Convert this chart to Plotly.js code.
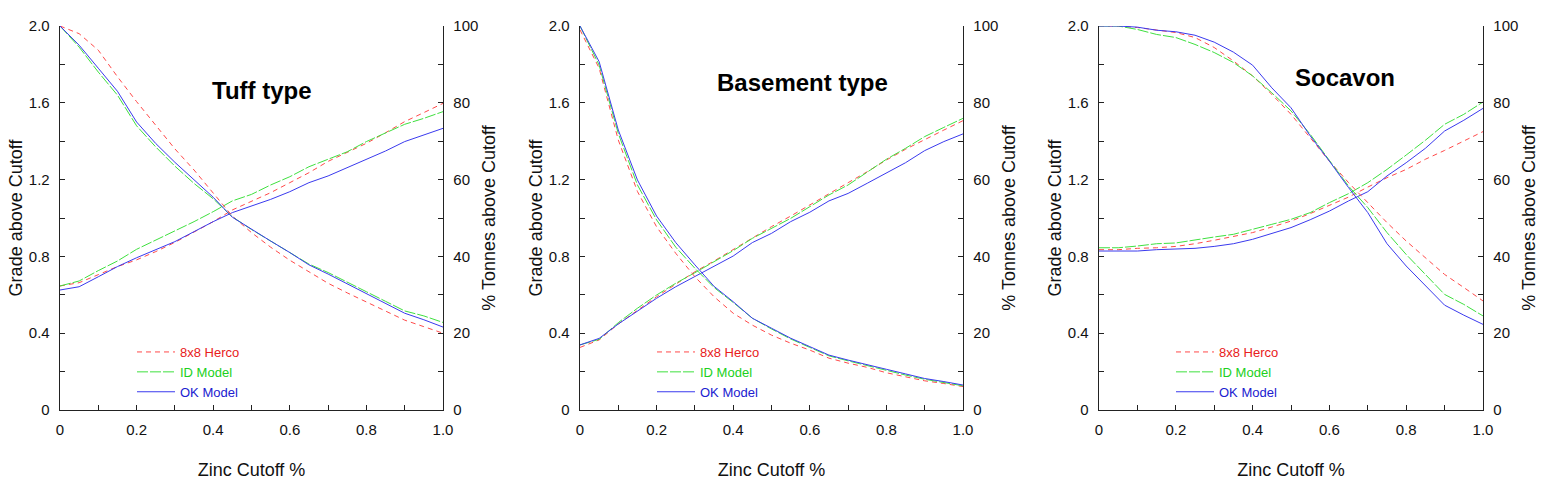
<!DOCTYPE html>
<html>
<head>
<meta charset="utf-8">
<script src="https://cdn.plot.ly/plotly-3.0.1.min.js"></script>
<style>html,body{margin:0;padding:0;background:#fff;}#chart{width:1555px;height:495px;}</style>
</head>
<body>
<div id="chart"></div>
<script>
// ---- data ----
const cutoff = [0, 0.05, 0.1, 0.15, 0.2, 0.25, 0.3, 0.35, 0.4, 0.45, 0.5, 0.55, 0.6, 0.65, 0.7, 0.75, 0.8, 0.85, 0.9, 0.95, 1.0];
const panelTitles = ["Tuff type", "Basement type", "Socavon"];
const modelNames = ["8x8 Herco", "ID Model", "OK Model"];

// Tuff type
const tuffGradeHerco = [0.646, 0.663, 0.705, 0.747, 0.782, 0.825, 0.873, 0.925, 0.981, 1.042, 1.085, 1.132, 1.184, 1.236, 1.295, 1.34, 1.389, 1.444, 1.502, 1.549, 1.597];
const tuffGradeID    = [0.646, 0.672, 0.726, 0.776, 0.837, 0.885, 0.929, 0.981, 1.033, 1.089, 1.123, 1.172, 1.215, 1.267, 1.306, 1.345, 1.398, 1.441, 1.488, 1.519, 1.554];
const tuffGradeOK    = [0.625, 0.642, 0.694, 0.747, 0.793, 0.837, 0.877, 0.929, 0.981, 1.028, 1.062, 1.097, 1.137, 1.184, 1.219, 1.262, 1.306, 1.349, 1.398, 1.432, 1.467];
const tuffTonHerco   = [100, 98, 93.7, 86.8, 80.3, 74, 68, 62.5, 56.5, 50.5, 46.2, 42.4, 39, 36, 33, 30.5, 28.2, 25.8, 23.4, 21.7, 20];
const tuffTonID      = [100, 94.5, 88, 82, 74, 68.5, 63.5, 59, 55, 50.3, 47, 44, 41, 38, 35.8, 33.2, 30.8, 28.3, 25.8, 24.5, 22.8];
const tuffTonOK      = [100, 95, 89, 83, 75, 69.4, 64.5, 59.9, 55.4, 50.2, 47, 44, 41, 37.8, 35.4, 32.8, 30.2, 27.7, 25.2, 23.5, 21.6];

// Basement type
const baseGradeHerco = [0.326, 0.365, 0.448, 0.521, 0.59, 0.655, 0.72, 0.776, 0.837, 0.898, 0.955, 1.01, 1.069, 1.128, 1.184, 1.241, 1.302, 1.358, 1.406, 1.458, 1.507];
const baseGradeID    = [0.339, 0.368, 0.455, 0.53, 0.599, 0.66, 0.715, 0.773, 0.83, 0.894, 0.946, 0.998, 1.059, 1.12, 1.172, 1.241, 1.306, 1.363, 1.424, 1.472, 1.519];
const baseGradeOK    = [0.339, 0.373, 0.448, 0.517, 0.582, 0.642, 0.694, 0.747, 0.802, 0.872, 0.92, 0.981, 1.03, 1.089, 1.128, 1.181, 1.233, 1.288, 1.351, 1.398, 1.438];
const baseTonHerco   = [99, 89, 70.3, 56.9, 47.7, 40.8, 34.7, 29.5, 25.2, 22.1, 19.5, 17.4, 15.6, 13.5, 12.2, 11.1, 9.7, 8.7, 7.6, 6.9, 6.1];
const baseTonID      = [100, 89.8, 72, 58.6, 49.5, 42.4, 36.9, 31.9, 28, 23.9, 21.1, 18.5, 16.3, 14.1, 12.8, 11.5, 10.2, 9.1, 8.0, 7.1, 6.3];
const baseTonOK      = [100, 90.7, 72.9, 59.9, 50.5, 43.6, 37.8, 32.2, 28.2, 23.9, 21.3, 18.7, 16.5, 14.3, 13.0, 11.7, 10.6, 9.4, 8.2, 7.4, 6.5];

// Socavon
const socGradeHerco  = [0.835, 0.835, 0.842, 0.845, 0.852, 0.866, 0.884, 0.905, 0.924, 0.953, 0.984, 1.023, 1.068, 1.109, 1.161, 1.21, 1.253, 1.306, 1.352, 1.401, 1.45];
const socGradeID     = [0.845, 0.845, 0.854, 0.866, 0.87, 0.887, 0.901, 0.915, 0.939, 0.967, 0.993, 1.028, 1.08, 1.127, 1.184, 1.253, 1.328, 1.405, 1.488, 1.54, 1.604];
const socGradeOK     = [0.828, 0.828, 0.828, 0.835, 0.837, 0.842, 0.852, 0.866, 0.889, 0.918, 0.95, 0.991, 1.036, 1.089, 1.137, 1.219, 1.288, 1.363, 1.453, 1.509, 1.571];
const socTonHerco    = [100, 100, 99.6, 98.9, 98.3, 97, 94.4, 90.9, 87, 82.2, 77, 70.9, 64.8, 59.2, 54, 48.8, 44, 39.7, 35.3, 31.9, 28.4];
const socTonID       = [100, 100, 99.1, 97.8, 97, 95.2, 93.1, 90.5, 87, 82.6, 77.9, 71.8, 65, 58.3, 52.7, 46.2, 40.5, 35.3, 30.1, 27.5, 24.5];
const socTonOK       = [100, 100, 99.7, 98.9, 98.5, 97.6, 95.8, 93.2, 89.8, 83.9, 78.7, 71.4, 64.8, 57.9, 51.4, 43.3, 37.5, 32.3, 27.3, 24.7, 22.3];

// tick labels
const xTickVals = [0, 0.1, 0.2, 0.3, 0.4, 0.5, 0.6, 0.7, 0.8, 0.9, 1.0];
const xTickText = ["0", "", "0.2", "", "0.4", "", "0.6", "", "0.8", "", "1.0"];
const gradeTickVals = [0, 0.2, 0.4, 0.6, 0.8, 1.0, 1.2, 1.4, 1.6, 1.8, 2.0];
const gradeTickText = ["0", "", "0.4", "", "0.8", "", "1.2", "", "1.6", "", "2.0"];
const tonTickVals = [0, 10, 20, 30, 40, 50, 60, 70, 80, 90, 100];
const tonTickText = ["0", "", "20", "", "40", "", "60", "", "80", "", "100"];

// ---- styling ----
const FONT = "Liberation Sans, Arial, Helvetica, sans-serif";
const lineColors = ["#ff4a4a", "#3fe03f", "#3a3aee"];
const textColors = ["#e82020", "#20d020", "#2020d0"];
const dashes = ["5px,4px", "11px,2px", "solid"];

const panels = [
  {grade: [tuffGradeHerco, tuffGradeID, tuffGradeOK], ton: [tuffTonHerco, tuffTonID, tuffTonOK]},
  {grade: [baseGradeHerco, baseGradeID, baseGradeOK], ton: [baseTonHerco, baseTonID, baseTonOK]},
  {grade: [socGradeHerco, socGradeID, socGradeOK], ton: [socTonHerco, socTonID, socTonOK]}
];

const W = 1555, H = 495;
const xPix = [[60, 443], [580, 963], [1099, 1483]];
const yDom = [(H - 410) / H, (H - 26) / H];
const titlePos = [[262, 91], [802, 83], [1345, 77]];

const traces = [];
const layout = {
  width: W, height: H,
  margin: {l: 0, r: 0, t: 0, b: 0},
  paper_bgcolor: "#fff", plot_bgcolor: "#fff",
  font: {family: FONT, size: 15, color: "#111"},
  annotations: [],
  showlegend: true
};

panels.forEach((p, i) => {
  const n = i + 1;
  const xa = "x" + (n === 1 ? "" : n);
  const yl = "y" + (2 * n - 1 === 1 ? "" : (2 * n - 1));
  const yr = "y" + (2 * n);
  const legKey = "legend" + (n === 1 ? "" : n);
  for (let m = 0; m < 3; m++) {
    traces.push({
      x: cutoff, y: p.grade[m], xaxis: xa, yaxis: yl, type: "scatter", mode: "lines",
      line: {color: lineColors[m], width: 1, dash: dashes[m]},
      name: '<span style="color:' + textColors[m] + '">' + modelNames[m] + '</span>',
      legend: legKey, showlegend: true, hoverinfo: "skip"
    });
    traces.push({
      x: cutoff, y: p.ton[m], xaxis: xa, yaxis: yr, type: "scatter", mode: "lines",
      line: {color: lineColors[m], width: 1, dash: dashes[m]},
      name: modelNames[m], legend: legKey, showlegend: false, hoverinfo: "skip"
    });
  }
  const xd = [xPix[i][0] / W, xPix[i][1] / W];
  const axBase = {
    showgrid: false, zeroline: false, showline: true, linecolor: "#222", linewidth: 1.3,
    ticks: "inside", ticklen: 5, tickwidth: 1, tickcolor: "#222",
    tickfont: {family: FONT, size: 15, color: "#111"}, fixedrange: true
  };
  layout["xaxis" + (n === 1 ? "" : n)] = Object.assign({}, axBase, {
    domain: xd, range: [0, 1], anchor: yl, tickmode: "array", tickvals: xTickVals, ticktext: xTickText,
    ticklabelstandoff: 6,
    title: {text: "Zinc Cutoff %", font: {family: FONT, size: 18, color: "#111"}, standoff: 26}
  });
  layout["yaxis" + (2 * n - 1 === 1 ? "" : (2 * n - 1))] = Object.assign({}, axBase, {
    domain: yDom, range: [0, 2], anchor: xa, side: "left", tickmode: "array",
    tickvals: gradeTickVals, ticktext: gradeTickText, ticklabelstandoff: 6,
    title: {text: "Grade above Cutoff", font: {family: FONT, size: 18, color: "#111"}, standoff: 1}
  });
  layout["yaxis" + (2 * n)] = Object.assign({}, axBase, {
    domain: yDom, range: [0, 100], anchor: xa, overlaying: xa === "x" ? "y" : yl, side: "right",
    tickmode: "array", tickvals: tonTickVals, ticktext: tonTickText, ticklabelstandoff: 6,
    title: {text: "% Tonnes above Cutoff", font: {family: FONT, size: 18, color: "#111"}, standoff: 5}
  });
  layout[legKey] = {
    x: (xPix[i][0] + 72) / W, y: (H - 337) / H, xanchor: "left", yanchor: "top",
    xref: "paper", yref: "paper", bgcolor: "rgba(0,0,0,0)", borderwidth: 0,
    font: {family: FONT, size: 13}, itemwidth: 38, tracegroupgap: 0
  };
  layout.annotations.push({
    text: "<b>" + panelTitles[i] + "</b>", xref: "paper", yref: "paper",
    x: titlePos[i][0] / W, y: (H - titlePos[i][1]) / H, xanchor: "center", yanchor: "middle",
    showarrow: false, font: {family: FONT, size: 24, color: "#000"}
  });
});

Plotly.newPlot("chart", traces, layout, {staticPlot: true, displayModeBar: false});
</script>
</body>
</html>
